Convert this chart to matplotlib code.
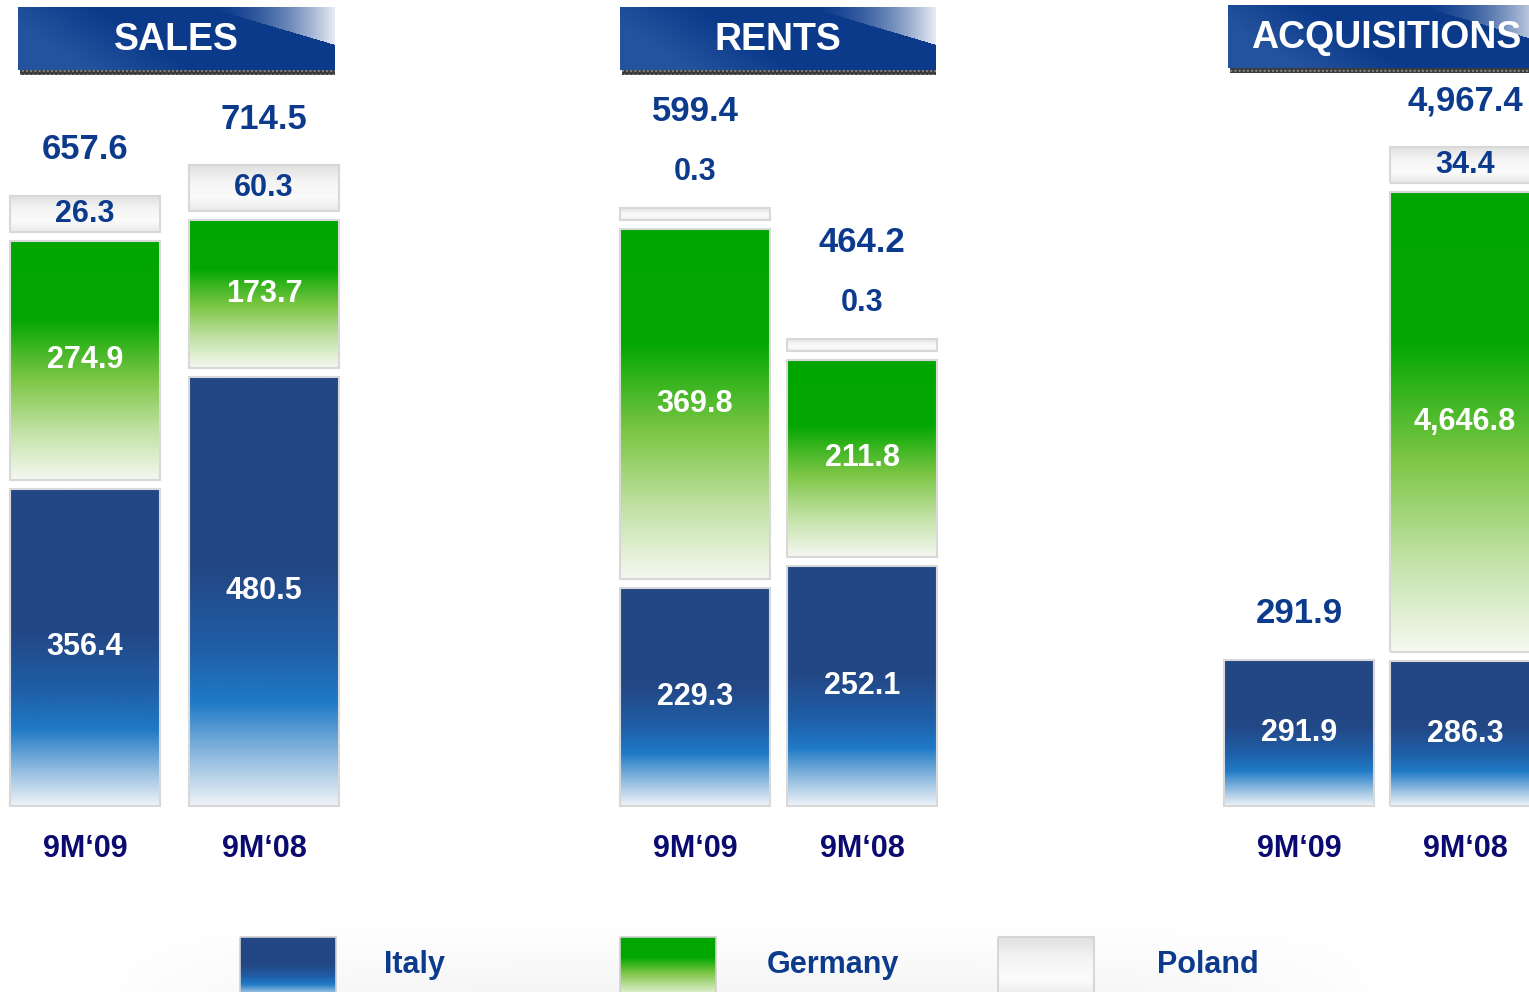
import numpy as np
import matplotlib
matplotlib.use("Agg")
from matplotlib import pyplot as plt
from matplotlib.colors import LinearSegmentedColormap, to_rgb
from matplotlib.patches import Rectangle

# ---- data ----
panels = ["SALES", "RENTS", "ACQUISITIONS"]
periods = ["9M‘09", "9M‘08"]
countries = ["Italy", "Germany", "Poland"]

sales_italy = [356.4, 480.5]
sales_germany = [274.9, 173.7]
sales_poland = [26.3, 60.3]
sales_total = [657.6, 714.5]

rents_italy = [229.3, 252.1]
rents_germany = [369.8, 211.8]
rents_poland = [0.3, 0.3]
rents_total = [599.4, 464.2]

acq_italy = [291.9, 286.3]
acq_germany = [0.0, 4646.8]
acq_poland = [0.0, 34.4]
acq_total = [291.9, 4967.4]

panel_data = [
    (sales_italy, sales_germany, sales_poland, sales_total),
    (rents_italy, rents_germany, rents_poland, rents_total),
    (acq_italy, acq_germany, acq_poland, acq_total),
]

# ---- style ----
W, H = 1529, 992
plt.rcParams['font.family'] = ['Liberation Sans', 'DejaVu Sans']
plt.rcParams['font.weight'] = 'bold'
NAVY = '#0c3a8c'
XLAB = '#0a0a70'

cmaps = [
    LinearSegmentedColormap.from_list('italy', [(0, '#234784'), (0.45, '#234785'), (0.64, '#1f5fa8'),
                                                (0.76, '#1f7ac6'), (0.9, '#9cc2e2'), (1, '#eef3f8')]),
    LinearSegmentedColormap.from_list('germany', [(0, '#00a600'), (0.33, '#03a703'), (0.58, '#7cc644'),
                                                  (0.8, '#c2e2a6'), (1, '#f5f8f1')]),
    LinearSegmentedColormap.from_list('poland', [(0, '#e0e0e0'), (0.35, '#f4f4f4'), (0.7, '#fbfbfb'),
                                                 (1, '#e8e8e8')]),
]
label_colors = ['white', 'white', NAVY]

first_center = [85, 695, 1299]
steps = [179, 167, 166]
headroom = [1.11, 1.23, 1.33]
bar_px = 150
base_y, top_y = 806, 90
gap = 9
min_px = 12        # thinnest box drawn for a tiny share
min_px_label = 36  # boxes for shares >= 1 are kept tall enough for their label

fig = plt.figure(figsize=(W / 100, H / 100), dpi=100)


def px_rect(x, y_top, w, h):
    return [x / W, (H - y_top - h) / H, w / W, h / H]


def draw_box(ax, x0, x1, y0, y1, cmap):
    inv = ax.transAxes.inverted()
    (ax0, ay0), (ax1, ay1) = inv.transform([(x0, y0), (x1, y1)])
    grad = np.linspace(0, 1, 256).reshape(-1, 1)
    ax.imshow(grad, cmap=cmap, extent=(ax0, ax1, ay0, ay1), transform=ax.transAxes,
              aspect='auto', origin='upper', interpolation='bilinear', clip_on=False)
    ax.add_patch(Rectangle((ax0, ay0), ax1 - ax0, ay1 - ay0, transform=ax.transAxes,
                           fill=False, edgecolor='#d8d8d8', lw=1.5, clip_on=False))


def disp_text(x, y, s, **kw):
    fx, fy = fig.transFigure.inverted().transform((x, y))
    fig.text(fx, fy, s, ha='center', va='center', fontweight='bold', **kw)


for i, (italy, germany, poland, total) in enumerate(panel_data):
    c0, step = first_center[i], steps[i]
    ax = fig.add_axes(px_rect(c0 - step / 2, top_y, 2 * step, base_y - top_y))
    ax.set_xlim(-0.5, 1.5)
    if panels[i] == "ACQUISITIONS":
        ax.set_yscale('function', functions=(lambda v: np.sqrt(np.clip(v, 0, None)), np.square))
    ax.set_ylim(0, max(total) * headroom[i])
    ax.axis('off')

    for j in range(len(periods)):
        xc, y_cursor = ax.transData.transform((j, 0))
        x0, x1 = xc - bar_px / 2, xc + bar_px / 2
        cum = 0.0
        first = True
        top = y_cursor
        above = None
        for k, series in enumerate((italy, germany, poland)):
            v = series[j]
            if v <= 0:
                continue
            cum += v
            y_data_top = ax.transData.transform((j, cum))[1]
            b = y_cursor if first else y_cursor + gap / 2
            t = max(y_data_top - gap / 2, b + (min_px_label if v >= 1 else min_px))
            draw_box(ax, x0, x1, b, t, cmaps[k])
            lab = f"{v:,.1f}"
            if t - b >= 28:
                disp_text(xc, (b + t) / 2, lab, color=label_colors[k], fontsize=22)
            else:
                above = lab
            y_cursor = t + gap / 2
            top = t
            first = False
        if above is not None:
            disp_text(xc, top + 36, above, color=NAVY, fontsize=22)
            disp_text(xc, top + 96, f"{total[j]:,.1f}", color=NAVY, fontsize=25)
        else:
            disp_text(xc, top + 46, f"{total[j]:,.1f}", color=NAVY, fontsize=25)
        disp_text(xc, H - 849, periods[j], color=XLAB, fontsize=22)

# ---- decorations: banners and legend ----
deco = fig.add_axes([0, 0, 1, 1], zorder=-1)
deco.set_xlim(0, W)
deco.set_ylim(H, 0)
deco.axis('off')


def banner(x0, y0, w, h, text):
    ny, nx = int(h), int(w)
    u = np.linspace(0, 1, nx)[None, :]
    v = np.linspace(0, 1, ny)[:, None]
    base = np.array(to_rgb('#0b3a8b'))
    light = np.array(to_rgb('#3a68ad'))
    f = np.clip(0.55 - u * 1.6 + (v - 0.3) * 0.5, 0, 0.55)
    img = base * (1 - f[..., None]) + light * f[..., None]
    shine = (v < (u - 0.6) / 0.4 * 0.6) & (u > 0.6)
    a = np.where(shine, 0.9 * np.clip((u - 0.6) / 0.4, 0, 1) ** 1.8, 0.0)
    img = img * (1 - a[..., None]) + a[..., None]
    deco.imshow(img, extent=(x0, x0 + w, y0 + h, y0), aspect='auto', interpolation='bilinear')
    deco.add_patch(Rectangle((x0 + 2, y0 + h), w - 2, 5, facecolor='#3c3c3c',
                             edgecolor='#8a8a8a', hatch='....', lw=0))
    deco.text(x0 + w / 2, y0 + h / 2 + 2, text, color='white', fontsize=27,
              fontweight='bold', ha='center', va='center')


banner(18, 7, 317, 63, panels[0])
banner(620, 7, 316, 63, panels[1])
banner(1228, 5, 317, 63, panels[2])

# soft legend band
nx, ny = 400, 60
u = np.linspace(0, 1, nx)[None, :]
v = np.linspace(0, 1, ny)[:, None]
band = np.ones((ny, nx, 4))
band[..., :3] = 0.93
band[..., 3] = 0.55 * v * (1 - np.abs(2 * u - 1) ** 3)
deco.imshow(band, extent=(100, 1390, 992, 925), aspect='auto', interpolation='bilinear')

sw_x = [240, 620, 998]
lab_x = [384, 767, 1157]
grad = np.linspace(0, 1, 256).reshape(-1, 1)
for k, name in enumerate(countries):
    deco.imshow(grad, cmap=cmaps[k], extent=(sw_x[k], sw_x[k] + 96, 999, 937),
                aspect='auto', interpolation='bilinear')
    deco.add_patch(Rectangle((sw_x[k], 937), 96, 62, fill=False, edgecolor='#d0d0d0', lw=1.2))
    deco.text(lab_x[k], 965, name, color=NAVY, fontsize=22, fontweight='bold',
              ha='left', va='center')

deco.set_xlim(0, W)
deco.set_ylim(H, 0)

fig.savefig("out.png", dpi=100)
